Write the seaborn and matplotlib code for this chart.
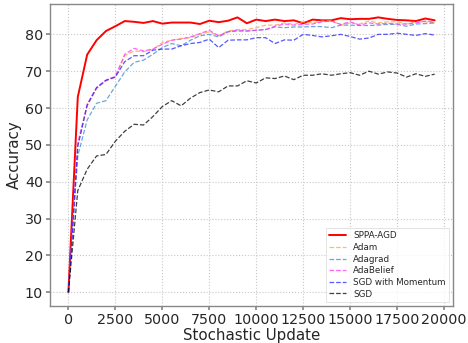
import numpy as np
import pandas as pd
import seaborn as sns
import matplotlib
matplotlib.use("Agg")
import matplotlib.pyplot as plt

steps = list(range(0, 20000, 500))

sppa_agd = [10.0, 63.0, 74.5, 78.4, 80.9, 82.2, 83.6, 83.4, 83.1, 83.6,
            82.9, 83.2, 83.2, 83.2, 82.8, 83.7, 83.3, 83.7, 84.6, 83.0,
            84.0, 83.6, 84.0, 83.6, 83.8, 83.0, 84.0, 83.8, 83.8, 84.4,
            84.1, 84.2, 84.2, 84.6, 84.2, 83.9, 83.8, 83.6, 84.3, 83.8]
adam = [10.0, 50.0, 60.5, 65.3, 67.4, 68.4, 74.2, 75.5, 75.3, 75.9,
        77.8, 78.4, 78.9, 79.1, 80.0, 80.7, 79.6, 80.9, 81.3, 81.3,
        81.8, 82.5, 82.5, 83.1, 82.7, 83.4, 83.1, 83.6, 83.7, 82.5,
        83.1, 82.8, 83.6, 83.1, 83.4, 83.4, 82.8, 83.4, 83.4, 83.1]
adagrad = [10.0, 47.0, 56.8, 61.3, 62.0, 65.9, 69.8, 72.4, 73.0, 74.6,
           76.4, 77.5, 76.9, 78.4, 79.6, 80.0, 79.3, 80.7, 80.9, 80.9,
           81.1, 81.3, 82.0, 81.8, 82.0, 82.0, 82.1, 82.1, 81.8, 82.5,
           82.5, 82.4, 82.4, 82.5, 82.7, 82.7, 82.2, 82.8, 82.9, 83.1]
adabelief = [10.0, 50.5, 61.0, 65.6, 67.6, 68.6, 74.6, 76.2, 75.5, 76.0,
             77.3, 78.4, 78.7, 79.3, 80.2, 81.1, 79.6, 80.7, 81.1, 80.9,
             81.1, 81.3, 82.2, 82.8, 82.5, 82.7, 82.8, 83.4, 83.6, 82.7,
             83.4, 82.5, 83.1, 82.8, 83.0, 82.8, 82.8, 83.1, 83.6, 83.3]
sgd_momentum = [10.0, 49.6, 60.8, 65.5, 67.5, 68.4, 72.6, 74.2, 74.2, 75.7,
                76.0, 76.0, 76.9, 77.5, 77.8, 78.7, 76.4, 78.4, 78.5, 78.5,
                79.1, 79.1, 77.5, 78.5, 78.4, 80.0, 79.7, 79.3, 79.6, 80.0,
                79.4, 78.7, 79.0, 80.0, 80.0, 80.3, 80.0, 79.7, 80.2, 79.8]
sgd = [10.0, 37.6, 43.4, 47.0, 47.4, 51.0, 53.7, 55.6, 55.4, 57.7,
       60.4, 62.0, 60.6, 62.7, 64.2, 64.9, 64.4, 66.0, 66.0, 67.4,
       66.8, 68.2, 68.0, 68.7, 67.7, 68.9, 68.9, 69.3, 68.9, 69.3,
       69.6, 68.9, 70.0, 69.2, 69.8, 69.5, 68.4, 69.3, 68.6, 69.2]

labels = ["SPPA-AGD", "Adam", "Adagrad", "AdaBelief", "SGD with Momentum", "SGD"]
series = [sppa_agd, adam, adagrad, adabelief, sgd_momentum, sgd]
colors = ["#ff0000", "#ffa040", "#3a8ac8", "#ff30ff", "#2020ff", "#000000"]

rows = []
for lab, vals in zip(labels, series):
    for s, v in zip(steps, vals):
        rows.append({"Stochastic Update": s, "Accuracy": v, "Method": lab})
df = pd.DataFrame(rows)

sns.set_theme(style="whitegrid")
plt.rcParams['font.family'] = ['DejaVu Sans']
fig = plt.figure(figsize=(4.68, 3.43), dpi=100)
ax = fig.add_axes([0.107, 0.108, 0.861, 0.88])

for lab, col in zip(labels, colors):
    sub = df[df["Method"] == lab]
    if lab == "SPPA-AGD":
        sns.lineplot(data=sub, x="Stochastic Update", y="Accuracy", ax=ax,
                     color=col, linewidth=1.4, label=lab)
    else:
        sns.lineplot(data=sub, x="Stochastic Update", y="Accuracy", ax=ax,
                     color=col, linewidth=0.9, linestyle="--", alpha=0.75,
                     label=lab)

ax.grid(True, linestyle=":", color="#c8c8c8", linewidth=0.8)
for sp in ax.spines.values():
    sp.set_color("#888888")
    sp.set_linewidth(1.0)
ax.set_xticks([0, 2500, 5000, 7500, 10000, 12500, 15000, 17500, 20000])
ax.set_yticks([10, 20, 30, 40, 50, 60, 70, 80])
ax.tick_params(axis="both", labelsize=10.3, length=3, color="#888888",
               left=True, bottom=True, pad=2)
ax.set_xlabel("Stochastic Update", fontsize=10.8, labelpad=1)
ax.set_ylabel("Accuracy", fontsize=10.8, labelpad=2)
ax.set_xlim(-975, 20475)
ax.set_ylim(6.3, 88.2)

leg = ax.legend(loc="lower right", fontsize=6.3, frameon=True,
                handlelength=2.0, borderpad=0.35, labelspacing=0.3,
                handletextpad=0.8, borderaxespad=0.5,
                fancybox=False, edgecolor="#d8d8d8")
leg.get_frame().set_linewidth(0.6)

fig.savefig("out.png", dpi=100)
